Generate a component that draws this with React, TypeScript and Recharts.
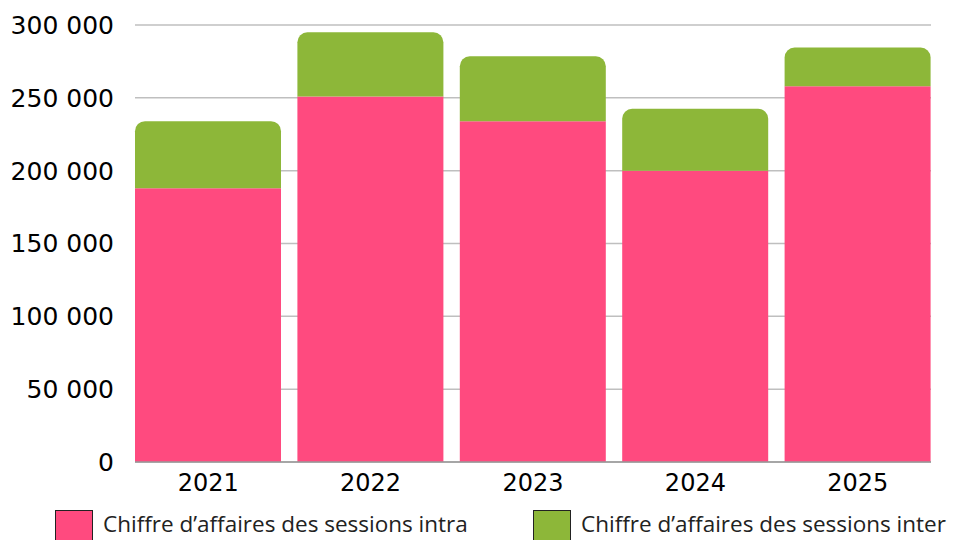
import { BarChart, Bar, XAxis, YAxis, CartesianGrid } from "recharts";

const years = ["2021", "2022", "2023", "2024", "2025"];
const intra = [188000, 251000, 234000, 200000, 258000];
const inter = [46000, 44000, 44500, 42500, 26500];
const yTicks = [0, 50000, 100000, 150000, 200000, 250000, 300000];

const seriesNames = [
  "Chiffre d\u2019affaires des sessions intra",
  "Chiffre d\u2019affaires des sessions inter",
];
const PINK = "#ff4a7f";
const GREEN = "#8db739";

const data = years.map((year, i) => ({ year, intra: intra[i], inter: inter[i] }));

const fmt = (v: number) => (v === 0 ? "0" : `${Math.round(v / 1000)} 000`);

function LegendBox() {
  const items = [
    { name: seriesNames[0], color: PINK, left: 55 },
    { name: seriesNames[1], color: GREEN, left: 533 },
  ];
  return (
    <>
      {items.map((it) => (
        <div key={it.name}>
          <div
            style={{
              position: "absolute",
              left: it.left,
              top: 510,
              width: 36,
              height: 36,
              background: it.color,
              border: "1px solid #222",
            }}
          />
          <div
            style={{
              position: "absolute",
              left: it.left + 48,
              top: 511,
              fontFamily: "'Open Sans', sans-serif",
              fontSize: 22.5,
              lineHeight: "26px",
              color: "#222",
              whiteSpace: "nowrap",
            }}
          >
            {it.name}
          </div>
        </div>
      ))}
    </>
  );
}

export default function App() {
  return (
    <div
      style={{
        position: "absolute",
        left: 0,
        top: 0,
        width: 954,
        height: 540,
        overflow: "hidden",
        background: "#fff",
      }}
    >
      <BarChart
        width={954}
        height={540}
        data={data}
        margin={{ top: 25, right: 23, bottom: 0, left: 0 }}
        barCategoryGap={8}
      >
        <CartesianGrid vertical={false} stroke="#bfbfbf" strokeWidth={1.5} />
        <XAxis
          dataKey="year"
          height={78}
          padding={{ left: -8, right: -8 }}
          axisLine={{ stroke: "#999", strokeWidth: 1.5 }}
          tickLine={false}
          tickSize={0}
          tickMargin={12}
          tick={{ fill: "#000", fontSize: 24, fontFamily: "'DejaVu Sans', sans-serif" }}
        />
        <YAxis
          width={135}
          domain={[0, 300000]}
          ticks={yTicks}
          tickFormatter={fmt}
          axisLine={false}
          tickLine={false}
          tickSize={0}
          tickMargin={21}
          tick={{ fill: "#000", fontSize: 25, fontFamily: "'DejaVu Sans', sans-serif" }}
        />
        <Bar dataKey="intra" name={seriesNames[0]} stackId="a" fill={PINK} isAnimationActive={false} />
        <Bar
          dataKey="inter"
          name={seriesNames[1]}
          stackId="a"
          fill={GREEN}
          radius={[10, 10, 0, 0]}
          isAnimationActive={false}
        />
      </BarChart>
      <LegendBox />
    </div>
  );
}
